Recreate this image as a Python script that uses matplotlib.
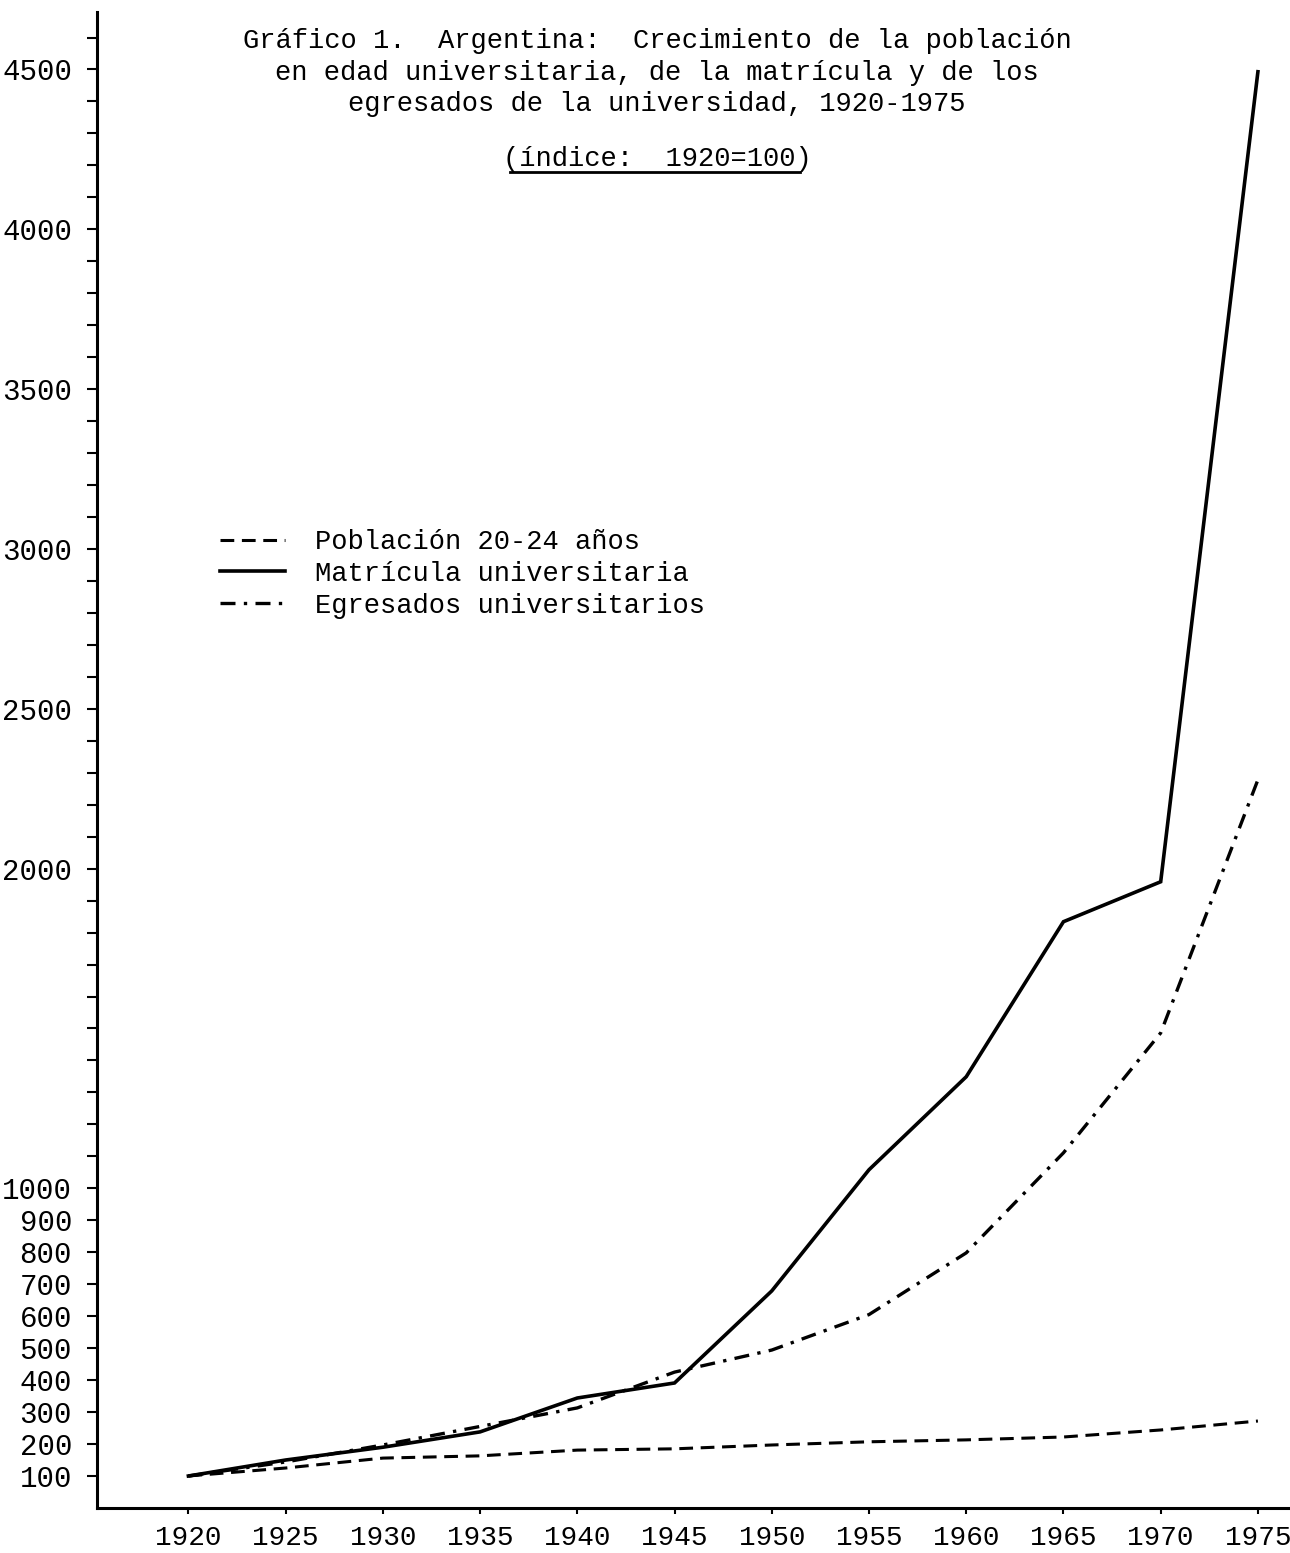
import matplotlib
matplotlib.use("Agg")
import matplotlib.pyplot as plt
from matplotlib.lines import Line2D

# Datos (índice 1920 = 100)
anios = [1920, 1925, 1930, 1935, 1940, 1945, 1950, 1955, 1960, 1965, 1970, 1975]
poblacion = [100, 125, 156, 163, 181, 185, 197, 207, 213, 222, 244, 272]
matricula = [100, 150, 190, 238, 344, 391, 679, 1058, 1349, 1834, 1959, 4493]
egresados = [100, 144, 197, 255, 313, 425, 494, 605, 798, 1111, 1486, 2278]

etiquetas = ["Población 20-24 años", "Matrícula universitaria", "Egresados universitarios"]
yticks_lab = [100, 200, 300, 400, 500, 600, 700, 800, 900, 1000,
              2000, 2500, 3000, 3500, 4000, 4500]

plt.rcParams['font.family'] = ['Liberation Mono', 'DejaVu Sans Mono']

fig = plt.figure(figsize=(12.9, 15.53), dpi=100, facecolor='white')
ax = fig.add_axes([0.0752, 0.029, 0.9248, 0.9633])

l1, = ax.plot(anios, poblacion, color='black', lw=2.2, dashes=(4.5, 2.5))
l2, = ax.plot(anios, matricula, color='black', lw=2.6, solid_joinstyle='miter')
l3, = ax.plot(anios, egresados, color='black', lw=2.4, dashes=(4.5, 2.5, 1, 2.5))

ax.set_xlim(1915.3, 1976.65)
ax.set_ylim(0, 4680)

ax.spines['top'].set_visible(False)
ax.spines['right'].set_visible(False)
ax.spines['left'].set_linewidth(2.2)
ax.spines['bottom'].set_linewidth(2.2)

ax.set_xticks(anios)
ax.set_xticklabels([str(a) for a in anios], fontsize=20)
ax.tick_params(axis='x', direction='out', length=4, width=1.5, pad=8)

# marcas cada 100, etiquetas sólo en algunas
ax.set_yticks(list(range(100, 4700, 100)))
ax.set_yticklabels([str(v) if v in yticks_lab else '' for v in range(100, 4700, 100)],
                   fontsize=21)
ax.tick_params(axis='y', direction='out', length=7, width=1.5, pad=11)

ax.legend([l1, l2, l3], etiquetas, loc='upper left',
          bbox_to_anchor=(220 / 1290, 1 - 529 / 1553), bbox_transform=fig.transFigure,
          frameon=False, fontsize=19.5, handlelength=2.4, handletextpad=1.1,
          labelspacing=0.22, borderpad=0, borderaxespad=0)

# Título
cx = 657 / 1290
fig.text(cx, 1 - 41 / 1553, "Gráfico 1.  Argentina:  Crecimiento de la población",
         ha='center', va='center', fontsize=19.5)
fig.text(cx, 1 - 73 / 1553, "en edad universitaria, de la matrícula y de los",
         ha='center', va='center', fontsize=19.5)
fig.text(cx, 1 - 104 / 1553, "egresados de la universidad, 1920-1975",
         ha='center', va='center', fontsize=19.5)
fig.text(cx, 1 - 159 / 1553, "(índice:  1920=100)",
         ha='center', va='center', fontsize=19.5)
fig.add_artist(Line2D([510 / 1290, 800 / 1290], [1 - 172 / 1553, 1 - 172 / 1553],
                      transform=fig.transFigure, color='black', lw=2))

fig.savefig('out.png', dpi=100)
